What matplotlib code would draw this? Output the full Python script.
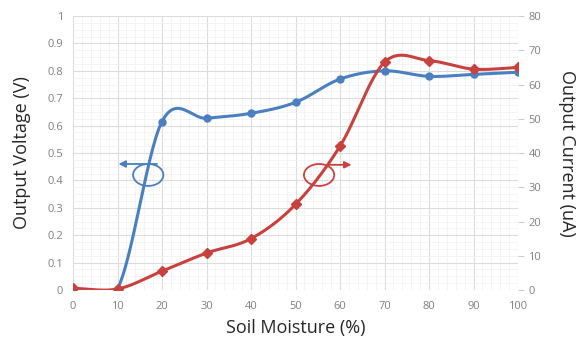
import numpy as np
import matplotlib.pyplot as plt
from matplotlib.patches import Ellipse

plt.rcParams['font.family'] = ['Open Sans', 'DejaVu Sans']

moisture = [0, 10, 20, 30, 40, 50, 60, 70, 80, 90, 100]
voltage = [0.005, 0.005, 0.615, 0.627, 0.645, 0.685, 0.77, 0.80, 0.78, 0.787, 0.795]
current = [0.5, 0.3, 5.5, 10.8, 15.0, 25.0, 42.0, 66.5, 67.0, 64.5, 65.0]

BLUE = "#4a7fc1"
RED = "#c9413f"
GRAY = "#808080"


def smooth(xs, ys, n=30):
    # Excel-style smoothed line (Catmull-Rom through the points)
    x = np.array(xs, float)
    y = np.array(ys, float)
    px = np.concatenate([[2 * x[0] - x[1]], x, [2 * x[-1] - x[-2]]])
    py = np.concatenate([[2 * y[0] - y[1]], y, [2 * y[-1] - y[-2]]])
    outx, outy = [], []
    t = np.linspace(0, 1, n)
    for i in range(1, len(px) - 2):
        for p, o in ((px, outx), (py, outy)):
            p0, p1, p2, p3 = p[i - 1], p[i], p[i + 1], p[i + 2]
            o.extend(0.5 * (2 * p1 + (-p0 + p2) * t
                            + (2 * p0 - 5 * p1 + 4 * p2 - p3) * t ** 2
                            + (-p0 + 3 * p1 - 3 * p2 + p3) * t ** 3))
    return outx, outy


fig = plt.figure(figsize=(5.84, 3.49), dpi=100)
ax = fig.add_axes([0.125, 0.169, 0.762, 0.785])
ax2 = ax.twinx()

ax.set_xlim(0, 100)
ax.set_ylim(0, 1)
ax2.set_ylim(0, 80)

ax.set_xticks(moisture)
ax.set_yticks(np.arange(0, 1.01, 0.1))
ax.set_yticklabels(["0", "0.1", "0.2", "0.3", "0.4", "0.5", "0.6", "0.7", "0.8", "0.9", "1"])
ax.set_xticks(np.arange(0, 101, 2), minor=True)
ax.set_yticks(np.arange(0, 1.001, 0.025), minor=True)
ax2.set_yticks(np.arange(0, 81, 10))

ax.grid(which="major", color="#dcdcdc", linewidth=0.8)
ax.grid(which="minor", color="#f0f0f0", linewidth=0.5)
ax.set_axisbelow(True)

for a in (ax, ax2):
    for s in a.spines.values():
        s.set_visible(False)
ax.tick_params(which="both", length=0, colors=GRAY, labelsize=8)
ax2.tick_params(axis="y", length=4, color="#cccccc", colors=GRAY, labelsize=8)
ax.tick_params(axis="x", pad=8)
ax.tick_params(axis="y", pad=7)

sx, sy = smooth(moisture, voltage)
ax.plot(sx, sy, color=BLUE, linewidth=2.2, zorder=3)
ax.plot(moisture, voltage, "o", color=BLUE, markersize=5, zorder=4)

cx, cy = smooth(moisture, current)
ax2.plot(cx, cy, color=RED, linewidth=2.2, zorder=3)
ax2.plot(moisture, current, "D", color=RED, markersize=5, zorder=4)

ax.set_xlabel("Soil Moisture (%)", fontsize=13, color="#262626", labelpad=5)
ax.set_ylabel("Output Voltage (V)", fontsize=13, color="#262626", labelpad=12)
ax2.set_ylabel("Output Current (uA)", fontsize=13, color="#262626",
               rotation=270, labelpad=25)

# indicator ellipses and arrows
ax.add_patch(Ellipse((16.9, 0.42), 6.8, 0.08, fill=False, edgecolor=BLUE, linewidth=1.3, zorder=5))
ax.annotate("", xy=(9.6, 0.46), xytext=(19.5, 0.46),
            arrowprops=dict(arrowstyle="-|>", color=BLUE, lw=1.3, mutation_scale=10), zorder=5)
ax.add_patch(Ellipse((55.3, 0.42), 6.8, 0.08, fill=False, edgecolor=RED, linewidth=1.3, zorder=5))
ax.annotate("", xy=(63.2, 0.457), xytext=(56.6, 0.457),
            arrowprops=dict(arrowstyle="-|>", color=RED, lw=1.3, mutation_scale=10), zorder=5)

fig.savefig("out.png", dpi=100)
